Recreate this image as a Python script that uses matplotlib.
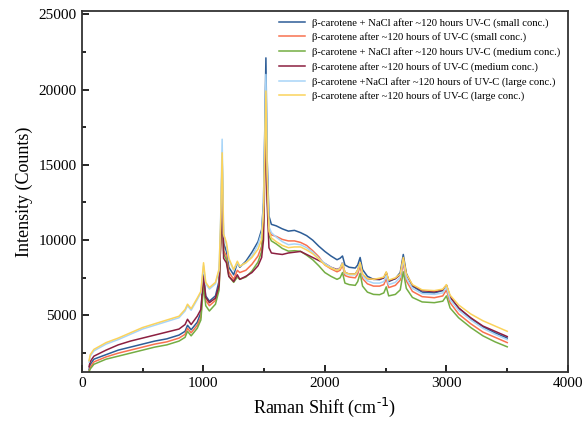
import matplotlib

matplotlib.use("Agg")
import matplotlib.pyplot as plt
from matplotlib.ticker import MultipleLocator

# Raman shift grid (cm-1) shared by all spectra
shift = [60, 70, 100, 200, 300, 400, 500, 600, 700, 800, 850, 870, 900, 950, 980,
         1002, 1020, 1050, 1100, 1130, 1143, 1155, 1167, 1190, 1210, 1250, 1280, 1300,
         1350, 1400, 1450, 1480, 1495, 1505, 1515, 1525, 1540, 1560, 1600, 1650, 1700,
         1750, 1800, 1850, 1900, 1950, 2000, 2050, 2100, 2125, 2145, 2165, 2200, 2250,
         2270, 2290, 2310, 2350, 2400, 2450, 2485, 2505, 2525, 2580, 2620, 2645, 2670,
         2720, 2800, 2900, 2970, 3000, 3030, 3100, 3200, 3300, 3400, 3500]

nacl_small = [1400, 1750, 2100, 2400, 2700, 2900, 3100, 3300, 3450, 3700, 3950, 4350, 4050, 4550, 5200,
              7700, 6300, 5950, 6300, 7300, 10500, 15500, 9800, 9250, 8200, 7700, 8500, 8200,
              8600, 9200, 9900, 10700, 12500, 17000, 22100, 15500, 11600, 11050, 10950, 10750, 10600,
              10650, 10500, 10300, 10000, 9600, 9250, 8950, 8700, 8800, 8950, 8350, 8200, 8150,
              8350, 8850, 8050, 7600, 7400, 7380, 7500, 7850, 7250, 7450, 7850, 9050, 7800,
              6950, 6550, 6500, 6650, 7000, 6200, 5500, 4800, 4250, 3850, 3500]

plain_small = [1300, 1550, 1920, 2250, 2500, 2700, 2900, 3100, 3250, 3500, 3750, 4150, 3850, 4350, 4900,
               7300, 6000, 5650, 6000, 6900, 9800, 13900, 9300, 8950, 7900, 7400, 8000, 7850,
               8000, 8400, 8950, 9600, 11200, 14500, 18300, 13000, 10700, 10350, 10250, 10050, 9950,
               9950, 9850, 9650, 9300, 8900, 8350, 8100, 7900, 8000, 8350, 7650, 7550, 7500,
               7750, 8300, 7450, 7100, 6950, 6950, 7050, 7450, 6850, 7000, 7350, 8500, 7300,
               6600, 6250, 6180, 6300, 6700, 5850, 5100, 4450, 3900, 3550, 3200]

nacl_medium = [1250, 1450, 1760, 2100, 2300, 2500, 2700, 2900, 3050, 3300, 3550, 3950, 3650, 4150, 4700,
               7000, 5650, 5300, 5750, 6700, 10000, 14300, 9100, 8700, 7600, 7200, 7550, 7400,
               7550, 7950, 8550, 9250, 11000, 15000, 19000, 13500, 10300, 9950, 9750, 9450, 9270,
               9300, 9260, 9000, 8700, 8300, 7850, 7600, 7400, 7500, 7850, 7150, 7050, 7000,
               7250, 7800, 6950, 6550, 6400, 6380, 6500, 6900, 6300, 6400, 6700, 7900, 6800,
               6200, 5900, 5850, 5950, 6300, 5500, 4850, 4200, 3650, 3250, 2920]

plain_medium = [1600, 1950, 2300, 2700, 3050, 3300, 3500, 3700, 3900, 4100, 4400, 4750, 4400, 4950, 5400,
                7600, 6200, 5850, 6150, 7000, 9800, 13900, 8800, 8500, 7600, 7250, 7700, 7400,
                7600, 7850, 8300, 8850, 10000, 14000, 18100, 12500, 9500, 9150, 9100, 9050, 9150,
                9200, 9250, 9050, 8850, 8650, 8450, 8200, 8050, 8150, 8500, 7850, 7750, 7750,
                8000, 8500, 7700, 7450, 7400, 7420, 7500, 7850, 7300, 7450, 7700, 8800, 7700,
                7000, 6650, 6580, 6700, 7000, 6250, 5500, 4850, 4300, 3950, 3600]

nacl_large = [1900, 2300, 2650, 3100, 3400, 3750, 4100, 4350, 4600, 4850, 5300, 5650, 5350, 6050, 6500,
              8300, 7100, 6750, 7100, 8000, 11500, 16700, 10400, 9700, 8700, 8000, 8500, 8250,
              8500, 8950, 9700, 10500, 12300, 16500, 21000, 15000, 10900, 10500, 10200, 9900, 9700,
              9750, 9700, 9500, 9200, 8800, 8450, 8200, 8000, 8150, 8500, 7800, 7700, 7700,
              7950, 8500, 7650, 7300, 7150, 7150, 7250, 7650, 7050, 7200, 7550, 8700, 7500,
              6800, 6450, 6400, 6500, 6900, 6050, 5350, 4700, 4150, 3750, 3400]

plain_large = [2000, 2400, 2750, 3200, 3500, 3850, 4200, 4450, 4700, 4950, 5400, 5750, 5450, 6150, 6600,
               8500, 7200, 6850, 7200, 8100, 11300, 15800, 10400, 9850, 8800, 8050, 8600, 8270,
               8500, 8850, 9400, 10050, 11800, 15500, 19900, 14500, 10600, 10150, 9900, 9650, 9500,
               9550, 9550, 9350, 9100, 8750, 8350, 8150, 8000, 8100, 8450, 7850, 7750, 7750,
               8000, 8500, 7750, 7450, 7400, 7480, 7550, 7900, 7350, 7500, 7750, 8850, 7750,
               7050, 6700, 6650, 6750, 7050, 6350, 5700, 5100, 4650, 4300, 3950]

labels = [
    "β-carotene + NaCl after ~120 hours UV-C (small conc.)",
    "β-carotene after ~120 hours of UV-C (small conc.)",
    "β-carotene + NaCl after ~120 hours UV-C (medium conc.)",
    "β-carotene after ~120 hours of UV-C (medium conc.)",
    "β-carotene +NaCl after ~120 hours of UV-C (large conc.)",
    "β-carotene after ~120 hours of UV-C (large conc.)",
]
series = [nacl_small, plain_small, nacl_medium, plain_medium, nacl_large, plain_large]
colors = ["#2d5d97", "#f8714f", "#74ad43", "#8c1f40", "#a8d5f8", "#fbd35c"]

plt.rcParams["font.family"] = ["Liberation Serif", "DejaVu Serif"]

fig = plt.figure(figsize=(5.88, 4.23), dpi=100)
ax = fig.add_axes([0.139, 0.1206, 0.827, 0.853])

for ys, c, lab in zip(series, colors, labels):
    ax.plot(shift, ys, color=c, lw=1.1, label=lab)

ax.set_xlim(0, 4000)
ax.set_ylim(1250, 25200)
ax.xaxis.set_major_locator(MultipleLocator(1000))
ax.xaxis.set_minor_locator(MultipleLocator(500))
ax.yaxis.set_major_locator(MultipleLocator(5000))
ax.yaxis.set_minor_locator(MultipleLocator(2500))
ax.tick_params(which="both", direction="in", top=False, right=False, labelsize=11, width=1.2)
ax.tick_params(which="major", length=5)
ax.tick_params(which="minor", length=3)
for sp in ax.spines.values():
    sp.set_linewidth(1.3)
    sp.set_color("#333333")

ax.set_xlabel("Raman Shift (cm$^{\\mathregular{\u2010}1}$)", fontsize=13)
ax.set_ylabel("Intensity (Counts)", fontsize=13)

ax.legend(loc="upper right", frameon=False, fontsize=7.7, handlelength=2.4,
          handletextpad=0.7, labelspacing=0.45, borderaxespad=0.2,
          bbox_to_anchor=(0.998, 1.0))

fig.savefig("out.png", dpi=100)
